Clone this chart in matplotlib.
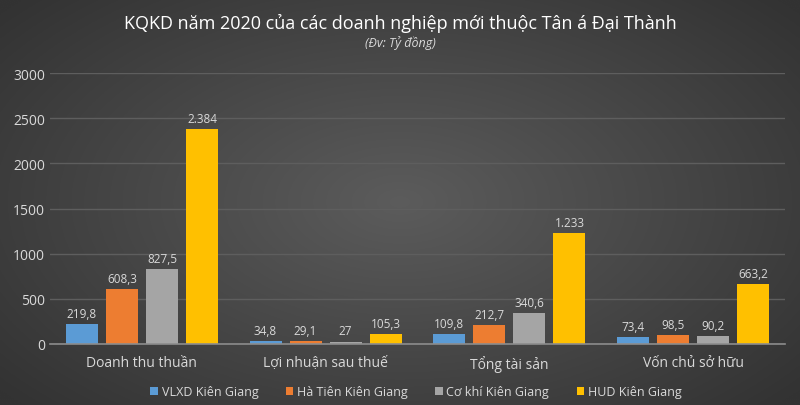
import numpy as np
import matplotlib.pyplot as plt

# data (ty dong)
categories = ['Doanh thu thuần', 'Lợi nhuận sau thuế', 'Tổng tài sản', 'Vốn chủ sở hữu']
series = ['VLXD Kiên Giang', 'Hà Tiên Kiên Giang', 'Cơ khí Kiên Giang', 'HUD Kiên Giang']
vlxd = [219.8, 34.8, 109.8, 73.4]
ha_tien = [608.3, 29.1, 212.7, 98.5]
co_khi = [827.5, 27, 340.6, 90.2]
hud = [2384, 105.3, 1233, 663.2]
values = [vlxd, ha_tien, co_khi, hud]
colors = ['#5b9bd5', '#ed7d31', '#a5a5a5', '#ffc000']

plt.rcParams['font.family'] = ['Open Sans', 'DejaVu Sans']

fig = plt.figure(figsize=(8, 4.06), dpi=100)

# radial gradient background
bg = fig.add_axes([0, 0, 1, 1], zorder=-10)
yy, xx = np.mgrid[-1:1:300j, -1:1:600j]
r = np.sqrt(xx**2 + (yy * 0.9)**2)
shade = 0.36 - 0.16 * np.clip(r / 1.3, 0, 1)
bg.imshow(np.dstack([shade] * 3), aspect='auto', extent=[0, 1, 0, 1])
bg.axis('off')

ax = fig.add_axes([50 / 800, 1 - 345 / 406, 735 / 800, 271 / 406])
ax.patch.set_alpha(0)

def fmt(v):
    if v >= 1000:
        return f'{v:,.0f}'.replace(',', '.')
    s = f'{v:g}'
    return s.replace('.', ',')

x = np.arange(len(categories))
step = 0.218
width = 0.174
for i, (name, vals, c) in enumerate(zip(series, values, colors)):
    pos = x + (i - 1.5) * step
    ax.bar(pos, vals, width, color=c, label=name, zorder=3)
    for p, v in zip(pos, vals):
        ax.text(p, v + 45, fmt(v), ha='center', va='bottom',
                color='#d9d9d9', fontsize=8.5, zorder=4)

ax.set_xlim(-0.5, 3.5)
ax.set_ylim(0, 3000)
ax.set_yticks(np.arange(0, 3001, 500))
ax.set_xticks(x)
ax.set_xticklabels(categories)
ax.tick_params(axis='both', colors='#d9d9d9', labelsize=10, length=0)
ax.tick_params(axis='x', pad=8)
ax.yaxis.grid(True, color='#5e5e5e', linewidth=1, zorder=0)
for s in ['top', 'right', 'left']:
    ax.spines[s].set_visible(False)
ax.spines['bottom'].set_color('#8c8c8c')
ax.spines['bottom'].set_linewidth(1.2)
ax.spines['bottom'].set_zorder(5)

fig.text(0.5, 0.943, 'KQKD năm 2020 của các doanh nghiệp mới thuộc Tân á Đại Thành',
         ha='center', va='center', color='white', fontsize=13)
fig.text(0.5, 0.893, '(Đv: Tỷ đồng)', ha='center', va='center',
         color='#d9d9d9', fontsize=9, style='italic')

leg = fig.legend(loc='center', bbox_to_anchor=(0.52, 0.033), ncol=4, frameon=False,
                 fontsize=9, handlelength=0.6, handleheight=0.6,
                 handletextpad=0.3, columnspacing=2.2)
for t in leg.get_texts():
    t.set_color('#d9d9d9')

plt.savefig('out.png', dpi=100)
